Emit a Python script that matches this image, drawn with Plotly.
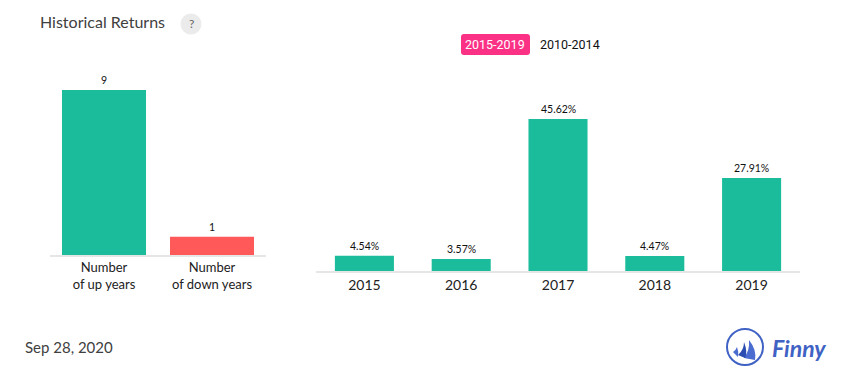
import plotly.graph_objects as go

W, H = 855, 382

count_labels = ["Number<br>of up years", "Number<br>of down years"]
count_values = [9, 1]
count_text = ["9", "1"]
year_labels = ["2015", "2016", "2017", "2018", "2019"]
year_values = [4.54, 3.57, 45.62, 4.47, 27.91]
year_text = ["4.54%", "3.57%", "45.62%", "4.47%", "27.91%"]

TEAL = "#1abc9c"
RED = "#ff5959"
PINK = "#fb3186"
BLUE = "#3f62c4"
DARK = "#404040"


def px(x):
    return x / W


def py(y):
    return 1 - y / H


def path_px(d):
    out = []
    for tok in d.split():
        if "," in tok:
            a, b = tok.split(",")
            out.append(f"{px(float(a)):.5f},{py(float(b)):.5f}")
        else:
            out.append(tok)
    return " ".join(out)


fig = go.Figure()
fig.add_trace(go.Bar(
    x=count_labels, y=count_values,
    cliponaxis=False, marker=dict(color=[TEAL, RED], line_width=0), width=0.778,
    xaxis="x", yaxis="y", hoverinfo="skip", showlegend=False,
))
fig.add_trace(go.Bar(
    x=year_labels, y=year_values,
    cliponaxis=False, marker=dict(color=TEAL, line_width=0), width=0.61,
    xaxis="x2", yaxis="y2", hoverinfo="skip", showlegend=False,
))

axis_common = dict(
    showgrid=False, zeroline=False, ticks="", fixedrange=True,
    showline=True, linecolor="#e6e6e6", linewidth=1.5,
)
shapes = [
    dict(type="circle", xref="paper", yref="paper",
         x0=px(180.5), x1=px(201.5), y0=py(34.5), y1=py(13.5),
         fillcolor="#ebebeb", line_width=0),
    dict(type="path", xref="paper", yref="paper", fillcolor=PINK, line_width=0,
         path=path_px("M 464,34 L 527,34 Q 530,34 530,37 L 530,52 Q 530,55 527,55 "
                      "L 464,55 Q 461,55 461,52 L 461,37 Q 461,34 464,34 Z")),
    dict(type="circle", xref="paper", yref="paper",
         x0=px(727), x1=px(763), y0=py(365), y1=py(329),
         fillcolor="rgba(0,0,0,0)", line=dict(color=BLUE, width=2)),
    dict(type="path", xref="paper", yref="paper", fillcolor="#4a6bd0", line_width=0,
         path=path_px("M 749,340 Q 757,350 755,360 L 744,358 Q 750,350 749,340 Z")),
    dict(type="path", xref="paper", yref="paper", fillcolor="#2b4cb0", line_width=0,
         path=path_px("M 744,342 Q 748,352 745,358 L 738,355 Q 744,350 744,342 Z")),
    dict(type="path", xref="paper", yref="paper", fillcolor="#4a6bd0", line_width=0,
         path=path_px("M 737,347 Q 739,352 738,357 L 733,352 Q 736,350 737,347 Z")),
]


def note(x, y, text, size, color=DARK, family="Lato", anchor="left"):
    return dict(xref="paper", yref="paper", x=px(x), y=py(y), text=text,
                showarrow=False, xanchor=anchor, yanchor="middle",
                font=dict(family=family, size=size, color=color))


def value_labels(ys, texts, xref, yref):
    return [dict(xref=xref, yref=yref, x=i, y=y, text=t, showarrow=False,
                 xanchor="center", yanchor="bottom", yshift=2,
                 font=dict(family="Lato", size=10.5, color="#111"))
            for i, (y, t) in enumerate(zip(ys, texts))]


annotations = [
    note(37.5, 21.5, "Historical Returns", 16),
    note(191, 24, "?", 12, color="#666", anchor="center"),
    note(495.5, 44.5, "2015-2019", 12.5, color="#ffffff", family="Roboto", anchor="center"),
    note(569.5, 44.5, "2010-2014", 12.5, color="#111111", family="Roboto", anchor="center"),
    note(22.5, 346.5, "Sep 28, 2020", 15),
    note(769.5, 348, "<b><i>Finny</i></b>", 23, color=BLUE, family="Lato"),
]
annotations += value_labels(count_values, count_text, "x", "y")
annotations += value_labels(year_values, year_text, "x2", "y2")

fig.update_layout(
    width=W, height=H, autosize=False,
    margin=dict(l=0, r=0, t=0, b=0),
    paper_bgcolor="white", plot_bgcolor="white",
    xaxis=dict(axis_common, domain=[px(50), px(266)], anchor="y", type="category",
               range=[-0.5, 1.5],
               tickfont=dict(family="Lato", size=13, color="#222")),
    yaxis=dict(domain=[py(255), py(90)], range=[0, 9], visible=False, fixedrange=True),
    xaxis2=dict(axis_common, domain=[px(316), px(800)], anchor="y2", type="category",
                range=[-0.5, 4.5],
                tickfont=dict(family="Lato", size=14, color="#222")),
    yaxis2=dict(domain=[py(271), py(119)], range=[0, 45.62], visible=False, fixedrange=True),
    shapes=shapes, annotations=annotations,
)

fig.write_html("out.html", config={"displayModeBar": False},
               post_script="document.body.style.margin='0';document.body.style.overflow='hidden';")
